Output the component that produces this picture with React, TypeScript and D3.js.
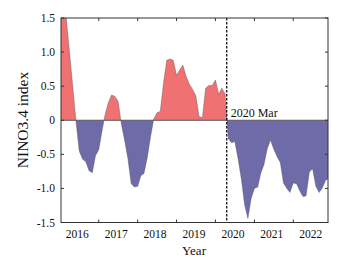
import React from 'react';
import * as d3 from 'd3';

// ---- data (monthly NINO3.4 index) ----
const nino2016 = [2.3, 1.9, 1.5, 1.0, 0.5, -0.02, -0.45, -0.57, -0.61, -0.74, -0.77, -0.52];
const nino2017 = [-0.43, -0.15, 0.08, 0.26, 0.37, 0.35, 0.28, -0.06, -0.3, -0.56, -0.93, -0.98];
const nino2018 = [-0.97, -0.81, -0.78, -0.55, -0.25, 0.02, 0.11, 0.13, 0.55, 0.88, 0.9, 0.88];
const nino2019 = [0.66, 0.74, 0.81, 0.64, 0.53, 0.45, 0.36, 0.05, 0.04, 0.47, 0.51, 0.51];
const nino2020 = [0.59, 0.38, 0.47, 0.39, -0.27, -0.33, -0.31, -0.57, -0.87, -1.24, -1.44, -1.15];
const nino2021 = [-1.0, -0.98, -0.78, -0.65, -0.42, -0.29, -0.42, -0.53, -0.62, -0.92, -1.0, -1.06];
const nino2022 = [-0.92, -0.93, -1.03, -1.12, -1.11, -0.76, -0.71, -0.97, -1.06, -0.99, -0.88, -0.85];

const dataYears = [2016, 2017, 2018, 2019, 2020, 2021, 2022];
const yearlyValues = [nino2016, nino2017, nino2018, nino2019, nino2020, nino2021, nino2022];

const xTickYears = [2017, 2018, 2019, 2020, 2021, 2022];
const xLabelYears = [2016, 2017, 2018, 2019, 2020, 2021, 2022];
const yTicks = [1.5, 1.0, 0.5, 0, -0.5, -1.0, -1.5];
const yTickLabels = ['1.5', '1.0', '0.5', '0', '-0.5', '-1.0', '-1.5'];

const markerDate = new Date(2020, 3, 16);
const markerLabel = '2020 Mar';
const xTitle = 'Year';
const yTitle = 'NINO3.4 index';

type Pt = [Date, number];
const series: Pt[] = [];
dataYears.forEach((yr, i) => {
  yearlyValues[i].forEach((v, m) => series.push([new Date(yr, m, 1), v]));
});

const W = 345, H = 265;
const L = 61, R = 328, T = 18, B = 222.5;
const FONT = "'Liberation Serif', 'Times New Roman', serif";
const RED = '#EF7171';
const PURPLE = '#6F6AA8';
const AX = '#333';

export default function App() {
  const x = d3.scaleTime().domain([new Date(2016, 0, 12), new Date(2022, 10, 23)]).range([L, R]);
  const y = d3.scaleLinear().domain([-1.5, 1.5]).range([B, T]);
  const area = d3.area<Pt>().x(d => x(d[0])).y0(y(0)).y1(d => y(d[1]));
  const line = d3.line<Pt>().x(d => x(d[0])).y(d => y(d[1]));
  const areaD = area(series) || '';
  const lineD = line(series) || '';
  const tl = 3;
  return (
    <svg width={W} height={H} style={{ position: 'absolute', left: 0, top: 0, background: '#fff' }}
      fontFamily={FONT}>
      <defs>
        <clipPath id="above"><rect x={L} y={T} width={R - L} height={y(0) - T} /></clipPath>
        <clipPath id="below"><rect x={L} y={y(0)} width={R - L} height={B - y(0)} /></clipPath>
        <clipPath id="plot"><rect x={L} y={T} width={R - L} height={B - T} /></clipPath>
      </defs>
      <path d={areaD} fill={RED} clipPath="url(#above)" />
      <path d={areaD} fill={PURPLE} clipPath="url(#below)" />
      <path d={lineD} fill="none" stroke="#555" strokeWidth={0.5} strokeOpacity={0.8} clipPath="url(#plot)" />
      <line x1={L} x2={R} y1={y(0)} y2={y(0)} stroke="#555" strokeWidth={1} />
      <line x1={x(markerDate)} x2={x(markerDate)} y1={T} y2={B} stroke="#111" strokeWidth={1.3} strokeDasharray="2.5,1.5" />
      <text x={x(markerDate) + 4} y={116.5} fontSize={12} fill="#111">{markerLabel}</text>
      <rect x={L} y={T} width={R - L} height={B - T} fill="none" stroke={AX} strokeWidth={1} />
      {xTickYears.map(yr => {
        const px = x(new Date(yr, 0, 1));
        return (
          <g key={yr}>
            <line x1={px} x2={px} y1={B} y2={B - tl} stroke={AX} strokeWidth={1} />
            <line x1={px} x2={px} y1={T} y2={T + tl} stroke={AX} strokeWidth={1} />
          </g>
        );
      })}
      {xLabelYears.map(yr => (
        <text key={yr} x={x(new Date(yr, 5, 13))} y={237.5} fontSize={11.5} textAnchor="middle" fill="#111">{yr}</text>
      ))}
      {yTicks.map((v, i) => (
        <g key={v}>
          <line x1={L} x2={L + tl} y1={y(v)} y2={y(v)} stroke={AX} strokeWidth={1} />
          <line x1={R} x2={R - tl} y1={y(v)} y2={y(v)} stroke={AX} strokeWidth={1} />
          <text x={55} y={y(v)} dy="0.35em" fontSize={11.5} textAnchor="end" fill="#111">{yTickLabels[i]}</text>
        </g>
      ))}
      <text x={194} y={255} fontSize={13} textAnchor="middle" fill="#111">{xTitle}</text>
      <text transform={`translate(28,120) rotate(-90)`} fontSize={15.5} textAnchor="middle" fill="#111">{yTitle}</text>
    </svg>
  );
}
